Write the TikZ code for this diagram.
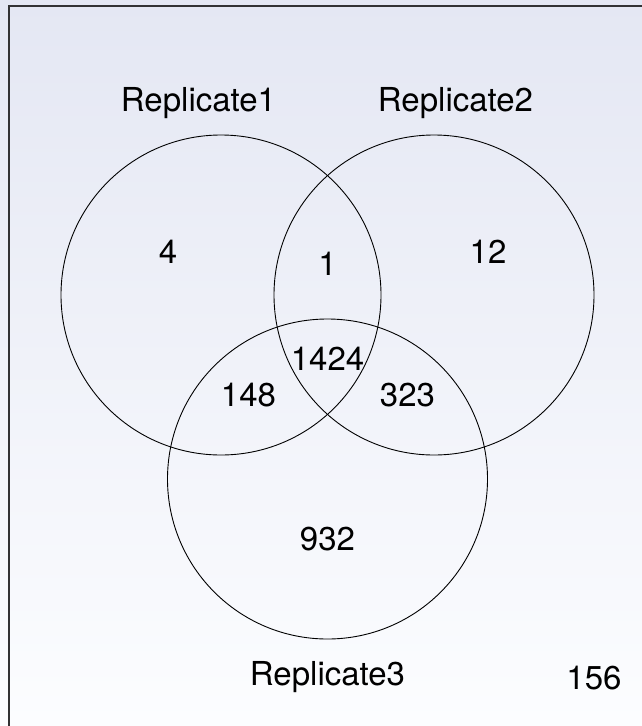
\documentclass[tikz,border=0pt]{standalone}
\usepackage{fontspec}
\setmainfont{TeX Gyre Heros}
\definecolor{bgtop}{RGB}{228,231,243}
\definecolor{bgbot}{RGB}{252,253,255}
\definecolor{frame}{RGB}{50,50,52}
\begin{document}
\begin{tikzpicture}[x=1pt,y=-1pt,
  setc/.style={draw=black,line width=0.9pt},
  lbl/.style={anchor=base,inner sep=0pt,font=\fontsize{33}{38}\selectfont}]
\shade[top color=bgtop,bottom color=bgbot] (0,0) rectangle (642,726);
\useasboundingbox (0,0) rectangle (642,726);
\draw[frame,line width=2pt] (9,730) -- (9,6) -- (650,6);
\draw[setc] (221,295) circle (160);
\draw[setc] (434,295) circle (160);
\draw[setc] (327.5,479) circle (160);
\node[lbl] (r1) at (198.5,111) {Replicate1};
\node[lbl] (r2) at (455.5,111) {Replicate2};
\node[lbl] (r3) at (327.5,685) {Replicate3};
\node[lbl] (a) at (168,263.5) {4};
\node[lbl] (ab) at (327.5,275.5) {1};
\node[lbl] (b) at (488,263.5) {12};
\node[lbl] (abc) at (327.5,370) {1424};
\node[lbl] (ac) at (248.5,406) {148};
\node[lbl] (bc) at (407.5,406) {323};
\node[lbl] (c) at (327.5,550) {932};
\node[lbl] (none) at (594,689) {156};
\end{tikzpicture}
\end{document}
